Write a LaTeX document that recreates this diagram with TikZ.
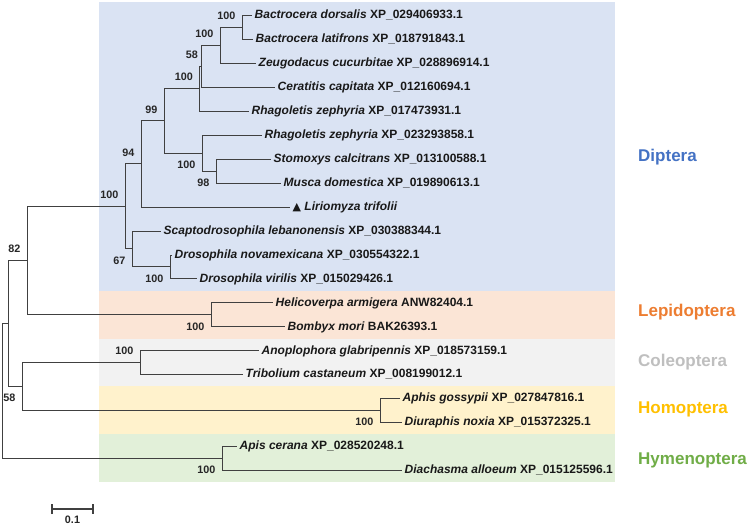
\documentclass[tikz,border=0pt]{standalone}
\usepackage{fontspec}
\setmainfont{Liberation Sans}
\newfontfamily\symfont{DejaVu Sans}
\usetikzlibrary{arrows.meta,positioning}
\definecolor{diptbg}{HTML}{DAE3F3}
\definecolor{lepibg}{HTML}{FBE5D6}
\definecolor{colebg}{HTML}{F2F2F2}
\definecolor{homobg}{HTML}{FFF2CC}
\definecolor{hymebg}{HTML}{E2F0D9}
\definecolor{dipt}{HTML}{4472C4}
\definecolor{lepi}{HTML}{ED7D31}
\definecolor{cole}{HTML}{BFBFBF}
\definecolor{homo}{HTML}{FFC000}
\definecolor{hyme}{HTML}{70AD47}

\begin{document}
\begin{tikzpicture}[
      x=1pt, y=-1pt,
      br/.style={draw=black!75, line width=0.9pt},
      tip/.style={anchor=west, inner xsep=2.5pt, inner ysep=0pt, text=black!90,
        font=\bfseries\fontsize{12}{14}\selectfont, text height=9pt, text depth=1.8pt},
      bs/.style={anchor=east, inner sep=0pt, text=black!85,
        font=\bfseries\fontsize{10.8}{13}\selectfont, text height=7.7pt, text depth=0pt},
      bsa/.style={bs, xshift=-6.5pt, yshift=11.5pt},
      bsb/.style={bs, xshift=-6.5pt, yshift=-12pt},
      grp/.style={anchor=west, inner sep=0pt, font=\bfseries\fontsize{17}{20}\selectfont}
    ]
      \useasboundingbox (0,0) rectangle (749,525);
      \fill[white] (0,0) rectangle (749,525);

      % order boxes
      \fill[diptbg] (99,2) rectangle (615,290.5);
      \fill[lepibg] (99,290.5) rectangle (615,338.5);
      \fill[colebg] (99,338.5) rectangle (615,386);
      \fill[homobg] (99,386) rectangle (615,434);
      \fill[hymebg] (99,434) rectangle (615,482);

      % tips
      \node[tip] (dors) at (252,15) {\textit{Bactrocera dorsalis} XP\_029406933.1};
      \node[tip] (lati) at (253,39) {\textit{Bactrocera latifrons} XP\_018791843.1};
      \node[tip] (zeug) at (256,63) {\textit{Zeugodacus cucurbitae} XP\_028896914.1};
      \node[tip] (cera) at (275,87) {\textit{Ceratitis capitata} XP\_012160694.1};
      \node[tip] (rhag1) at (249,111) {\textit{Rhagoletis zephyria} XP\_017473931.1};
      \node[tip] (rhag2) at (262,135) {\textit{Rhagoletis zephyria} XP\_023293858.1};
      \node[tip] (stom) at (271,159) {\textit{Stomoxys calcitrans} XP\_013100588.1};
      \node[tip] (musc) at (281,183) {\textit{Musca domestica} XP\_019890613.1};
      \node[tip] (lirio) at (290,207) {{\symfont\fontsize{11}{13}\selectfont ▲}\ \textit{Liriomyza trifolii}};
      \node[tip] (scap) at (161,231) {\textit{Scaptodrosophila lebanonensis} XP\_030388344.1};
      \node[tip] (dnov) at (172,255) {\textit{Drosophila novamexicana} XP\_030554322.1};
      \node[tip] (dvir) at (197,278.5) {\textit{Drosophila virilis} XP\_015029426.1};
      \node[tip] (heli) at (273,302.5) {\textit{Helicoverpa armigera} ANW82404.1};
      \node[tip] (bomb) at (285,326.5) {\textit{Bombyx mori} BAK26393.1};
      \node[tip] (anop) at (259,350.5) {\textit{Anoplophora glabripennis} XP\_018573159.1};
      \node[tip] (trib) at (243,374) {\textit{Tribolium castaneum} XP\_008199012.1};
      \node[tip] (aphi) at (400,398) {\textit{Aphis gossypii} XP\_027847816.1};
      \node[tip] (diur) at (402,422) {\textit{Diuraphis noxia} XP\_015372325.1};
      \node[tip] (apis) at (237,446) {\textit{Apis cerana} XP\_028520248.1};
      \node[tip] (diac) at (402,470) {\textit{Diachasma alloeum} XP\_015125596.1};

      % inner nodes
      \coordinate (k1) at (242,27);
      \coordinate (k2) at (220,45);
      \coordinate (k3) at (201.5,66);
      \coordinate (k4) at (199.5,88.5);
      \coordinate (k5) at (216,171);
      \coordinate (k6) at (202,153);
      \coordinate (k7) at (164,120.75);
      \coordinate (k8) at (141,163.9);
      \coordinate (k9) at (170,266.75);
      \coordinate (k10) at (132,248.9);
      \coordinate (k11) at (125,206.4);
      \coordinate (k12) at (211,314.5);
      \coordinate (k13) at (27,260.4);
      \coordinate (k14) at (140,362.25);
      \coordinate (k15) at (380,410);
      \coordinate (k16) at (22,386.1);
      \coordinate (k17) at (8,323.3);
      \coordinate (k18) at (222,458);
      \coordinate (root) at (2,390.6);

      % branches
      \draw[br] (k1) |- (dors); \draw[br] (k1) |- (lati);
      \draw[br] (k2) |- (k1); \draw[br] (k2) |- (zeug);
      \draw[br] (k3) |- (k2); \draw[br] (k3) |- (cera);
      \draw[br] (k4) |- (k3); \draw[br] (k4) |- (rhag1);
      \draw[br] (k5) |- (stom); \draw[br] (k5) |- (musc);
      \draw[br] (k6) |- (rhag2); \draw[br] (k6) |- (k5);
      \draw[br] (k7) |- (k4); \draw[br] (k7) |- (k6);
      \draw[br] (k8) |- (k7); \draw[br] (k8) |- (lirio);
      \draw[br] (k9) |- (dnov); \draw[br] (k9) |- (dvir);
      \draw[br] (k10) |- (scap); \draw[br] (k10) |- (k9);
      \draw[br] (k11) |- (k8); \draw[br] (k11) |- (k10);
      \draw[br] (k12) |- (heli); \draw[br] (k12) |- (bomb);
      \draw[br] (k13) |- (k11); \draw[br] (k13) |- (k12);
      \draw[br] (k14) |- (anop); \draw[br] (k14) |- (trib);
      \draw[br] (k15) |- (aphi); \draw[br] (k15) |- (diur);
      \draw[br] (k16) |- (k14); \draw[br] (k16) |- (k15);
      \draw[br] (k17) |- (k13); \draw[br] (k17) |- (k16);
      \draw[br] (k18) |- (apis); \draw[br] (k18) |- (diac);
      \draw[br] (root) |- (k17); \draw[br] (root) |- (k18);

      % bootstrap values
      \node[bsa] (b1) at (k1) {100};
      \node[bsa] (b2) at (k2) {100};
      \node[bsa, xshift=3pt] (b3) at (k3) {58};
      \node[bsa] (b4) at (k4) {100};
      \node[bsb] (b5) at (k5) {98};
      \node[bsb] (b6) at (k6) {100};
      \node[bsa] (b7) at (k7) {99};
      \node[bsa] (b8) at (k8) {94};
      \node[bsb] (b9) at (k9) {100};
      \node[bsb] (b10) at (k10) {67};
      \node[bsa] (b11) at (k11) {100};
      \node[bsb] (b12) at (k12) {100};
      \node[bsa] (b13) at (k13) {82};
      \node[bsa] (b14) at (k14) {100};
      \node[bsb] (b15) at (k15) {100};
      \node[bsb] (b16) at (k16) {58};
      \node[bsb] (b18) at (k18) {100};

      % orders
      \node[grp, text=dipt] (gdipt) at (638,157) {Diptera};
      \node[grp, text=lepi] (glepi) at (638,312) {Lepidoptera};
      \node[grp, text=cole] (gcole) at (638,362) {Coleoptera};
      \node[grp, text=homo] (ghomo) at (638,409) {Homoptera};
      \node[grp, text=hyme] (ghyme) at (638,460) {Hymenoptera};

      % scale bar
      \coordinate (sb1) at (51,509);
      \coordinate (sb2) at (94,509);
      \coordinate (sbm) at (72.5,509);
      \draw[br, line width=1.6pt, {Bar[width=10pt]}-{Bar[width=10pt]}] (sb1) -- (sb2);
      \node[bs, anchor=north, below=6.5pt of sbm] (sbl) {0.1};
    \end{tikzpicture}
\end{document}
